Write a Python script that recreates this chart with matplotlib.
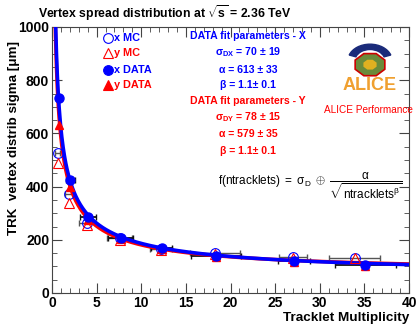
import numpy as np
import matplotlib
matplotlib.use("Agg")
import matplotlib.pyplot as plt
from matplotlib.patches import RegularPolygon, Wedge
from matplotlib.ticker import MultipleLocator

plt.rcParams['font.family'] = ['Liberation Sans', 'DejaVu Sans']
plt.rcParams['mathtext.fontset'] = 'custom'
plt.rcParams['mathtext.rm'] = 'Liberation Sans'
plt.rcParams['mathtext.it'] = 'Liberation Sans:italic'
plt.rcParams['mathtext.bf'] = 'Liberation Sans:bold'

# ---- data ----
x_data = [0.75, 2.05, 4.0, 7.7, 12.3, 18.4, 27.1, 35.1]
x_data_err = [0.3, 0.5, 0.9, 1.4, 1.2, 2.8, 1.8, 3.4]
sigx_data = [732, 424, 286, 206, 170, 140, 119, 104]
sigy_data = [632, 400, 274, 203, 166, 136, 117, 103]

x_mc = [0.65, 1.95, 3.9, 7.6, 12.2, 18.3, 27.0, 33.9]
x_mc_err = [0.3, 0.5, 0.9, 1.4, 1.2, 2.8, 1.6, 2.9]
sigx_mc = [526, 374, 264, 206, 165, 151, 136, 133]
sigy_mc = [488, 340, 254, 198, 160, 146, 133, 131]

fit_x = dict(sigma=70, alpha=613, beta=1.1)
fit_y = dict(sigma=78, alpha=579, beta=1.1)

xticks = [0, 5, 10, 15, 20, 25, 30, 35, 40]
yticks = [0, 200, 400, 600, 800, 1000]

BLUE = '#0000ff'
RED = '#ff0000'

fig = plt.figure(figsize=(4.18, 3.27), dpi=100)
ax = fig.add_axes([52/418, 1-293/327, (409-52)/418, (293-27)/327])

def fitf(n, p):
    return np.sqrt(p['sigma']**2 + p['alpha']**2 / n**p['beta'])

n = np.linspace(0.3, 40, 800)
ax.plot(n, fitf(n, fit_y), color=RED, lw=2.6, zorder=3)
ax.plot(n, fitf(n, fit_x), color=BLUE, lw=2.6, zorder=4)

# error bars
ax.errorbar(x_mc, sigx_mc, xerr=x_mc_err, fmt='none', ecolor='#555555', elinewidth=1, capsize=2, zorder=2)
ax.errorbar(x_data, sigx_data, xerr=x_data_err, fmt='none', ecolor='#111111', elinewidth=1.3, capsize=2, zorder=2)

# markers
ax.plot(x_mc, sigx_mc, 'o', ms=7, mfc='none', mec=BLUE, mew=0.8, zorder=5)
ax.plot(x_mc, sigy_mc, '^', ms=7.5, mfc='none', mec=RED, mew=0.8, zorder=5)
ax.plot(x_data, sigy_data, '^', ms=6, color=RED, zorder=6)
ax.plot(x_data, sigx_data, 'o', ms=6.5, color=BLUE, zorder=7)

ax.set_xlim(0, 40)
ax.set_ylim(0, 1000)
ax.set_xticks(xticks)
ax.set_yticks(yticks)
ax.xaxis.set_minor_locator(MultipleLocator(1))
ax.yaxis.set_minor_locator(MultipleLocator(50))
ax.tick_params(which='both', direction='in', top=True, right=True, color='#444444')
ax.tick_params(which='major', length=7, width=0.8, labelsize=10, pad=2)
ax.tick_params(which='minor', length=3.5, width=0.6)
for lab in ax.get_xticklabels() + ax.get_yticklabels():
    lab.set_fontweight('bold')
for s in ax.spines.values():
    s.set_linewidth(0.8)
    s.set_color('#444444')

fig.text(165/418, 1-13/327, r'Vertex spread distribution at $\sqrt{\mathbf{s}}$ = 2.36 TeV',
         ha='center', va='center', fontsize=8.8, fontweight='bold')
fig.text(14/418, 1-138/327, 'TRK  vertex distrib sigma [μm]', rotation=90,
         ha='center', va='center', fontsize=9.6, fontweight='bold')
fig.text(409/418, 1-318/327, 'Tracklet Multiplicity', ha='right', va='center',
         fontsize=9.7, fontweight='bold')

# legend
T = ax.transAxes
leg = [('o', 'none', BLUE, 'x MC', BLUE),
       ('^', 'none', RED, 'y MC', RED),
       ('o', BLUE, BLUE, 'x DATA', BLUE),
       ('^', RED, RED, 'y DATA', RED)]
for i, (m, fc, ec, lab, tc) in enumerate(leg):
    fy = [0.959, 0.902, 0.838, 0.782][i]
    ax.plot([0.157], [fy], m, ms=7, mfc=fc, mec=ec, mew=0.8, transform=T, clip_on=False, zorder=8)
    ax.text(0.174, fy, lab, color=tc, fontsize=7.8, fontweight='bold', ha='left', va='center', transform=T)

cx = 0.549
block = [(0.966, 'DATA fit parameters - X', BLUE),
         (0.906, r'σ$_{\mathbf{DX}}$ = 70 ± 19', BLUE),
         (0.840, 'α = 613 ± 33', BLUE),
         (0.782, 'β = 1.1± 0.1', BLUE),
         (0.722, 'DATA fit parameters - Y', RED),
         (0.662, r'σ$_{\mathbf{DY}}$ = 78 ± 15', RED),
         (0.596, 'α = 579 ± 35', RED),
         (0.532, 'β = 1.1± 0.1', RED)]
for fy, s, c in block:
    ax.text(cx, fy, s, color=c, fontsize=7.6, fontweight='bold', ha='center', va='center', transform=T)

ax.text(0.885, 0.688, 'ALICE Performance', color=RED, fontsize=7.2, ha='center', va='center', transform=T)

# ALICE logo (simplified)
lx, ly = (370-52)/357, (293-62)/266
ax.add_patch(Wedge((lx, ly + 0.005), 0.062, 20, 160, width=0.02, color='#1a2a7a', transform=T, zorder=8))
ax.add_patch(RegularPolygon((lx, ly - 0.01), 8, radius=0.045, orientation=np.pi/8,
                            fc='#6a8a3a', ec='#cc0000', lw=1.2, transform=T, zorder=9))
ax.add_patch(RegularPolygon((lx, ly - 0.01), 8, radius=0.02, orientation=np.pi/8,
                            fc='#e0b020', ec='none', transform=T, zorder=10))
ax.text(lx, (293-85)/266, 'ALICE', color='#f0a030', fontsize=13, fontweight='bold',
        ha='center', va='center', transform=T, zorder=10)

ax.text(0.98, 0.405,
        r'$\mathrm{f(ntracklets)\ =\ \sigma_{D}\ \oplus\ \dfrac{\alpha}{\sqrt{ntracklets^{\beta}}}}$',
        fontsize=8.5, ha='right', va='center', transform=T)

fig.savefig('out.png', dpi=100)
